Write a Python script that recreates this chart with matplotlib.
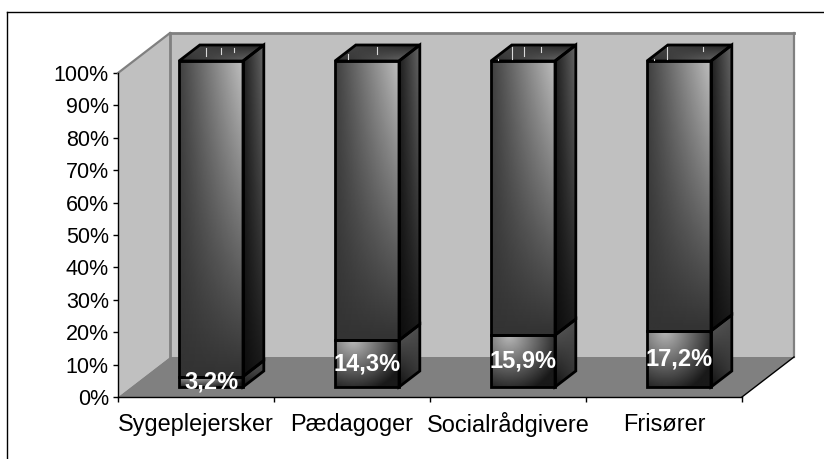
import numpy as np
import matplotlib
matplotlib.use("Agg")
import matplotlib.pyplot as plt
from matplotlib.patches import Polygon
from matplotlib.lines import Line2D

categories = ["Sygeplejersker", "Pædagoger", "Socialrådgivere", "Frisører"]
lower_values = [3.2, 14.3, 15.9, 17.2]
upper_values = [96.8, 85.7, 84.1, 82.8]
labels = ["3,2%", "14,3%", "15,9%", "17,2%"]
y_ticks = list(range(0, 101, 10))
# small light strokes on the bar tops: pixel x, pixel y from, pixel y to
top_marks = [
    [(205.7, 48, 56), (221, 48, 54), (234, 48, 52)],
    [(348, 54, 59), (377, 47, 54)],
    [(498, 59, 60), (512, 47, 59), (524, 47, 56), (541, 47, 52)],
    [(654, 59, 60), (667, 47, 59), (703, 47, 51)],
]

W, H = 824, 459
plt.rcParams["font.family"] = ["Liberation Sans", "DejaVu Sans"]
fig = plt.figure(figsize=(W / 100, H / 100), dpi=100)
ax = fig.add_axes([118 / W, (H - 397) / H, (742 - 118) / W, (397 - 73) / H])
ax.patch.set_visible(False)

DX = 52 / 156  # x data units per full depth
DY = 40 / 3.24  # y data units per full depth


def P(x, y, d=0.0):
    return (x + d * DX, y + d * DY)


def poly(pts, **kw):
    kw.setdefault("clip_on", False)
    p = Polygon(pts, closed=True, **kw)
    ax.add_patch(p)
    return p


# walls
GW = "#c0c0c0"
GF = "#808080"
poly([P(0, 0), P(0, 0, 1), P(0, 100, 1), P(0, 100)], fc=GW, ec="none", zorder=1)
poly([P(0, 0, 1), P(4, 0, 1), P(4, 100, 1), P(0, 100, 1)], fc=GW, ec="none", zorder=1)
poly([P(0, 0), P(4, 0), P(4, 0, 1), P(0, 0, 1)], fc=GF, ec="none", zorder=2)
for a, b, lw in [(P(0, 100), P(0, 100, 1), 1.6), (P(0, 100, 1), P(4, 100, 1), 2.0),
                 (P(0, 100, 1), P(0, 0, 1), 2.0), (P(4, 100, 1), P(4, 0, 1), 1.6)]:
    ax.add_line(Line2D([a[0], b[0]], [a[1], b[1]], color="#808080", lw=lw, clip_on=False, zorder=2))
a, b = P(4, 0), P(4, 0, 1)
ax.add_line(Line2D([a[0], b[0]], [a[1], b[1]], color="black", lw=1.0, clip_on=False, zorder=3))


def show(g, pts, z):
    xs = [p[0] for p in pts]
    ys = [p[1] for p in pts]
    im = ax.imshow(g, cmap="gray", vmin=0, vmax=1, extent=[min(xs), max(xs), min(ys), max(ys)],
                   origin="upper", aspect="auto", zorder=z, interpolation="bilinear")
    clip = Polygon(pts, closed=True, transform=ax.transData, fc="none", ec="none", clip_on=False)
    ax.add_patch(clip)
    im.set_clip_box(fig.bbox)
    im.set_clip_path(clip)


N = 48
U = np.linspace(0, 1, N)[None, :]
V = np.linspace(0, 1, N)[:, None]


def grad(pts, corners, z):
    """Bilinear grey gradient. corners = TL, TR, BL, BR grey levels (0-1)."""
    tl, tr, bl, br = corners
    show((1 - V) * ((1 - U) * tl + U * tr) + V * ((1 - U) * bl + U * br), pts, z)


def glow(pts, z):
    """Shading of the lower front face: light near the upper left, dark towards the edges."""
    dist = np.sqrt(((U - 0.28) / 0.85) ** 2 + (V / 1.15) ** 2)
    show(0.1 + 0.62 * np.clip(1 - dist, 0, 1), pts, z)


BW = 64 / 156
D0, D1 = 0.25, 0.65
XS = 2 / 156
YK = 326 / 324
for i, (lo, up) in enumerate(zip(lower_values, upper_values)):
    xl = i + 0.5 - BW / 2 + XS
    xr = xl + BW
    y0 = 0.0
    y1 = lo * YK
    y2 = (lo + up) * YK
    z = 5 + i
    # lower segment
    front = [P(xl, y0, D0), P(xr, y0, D0), P(xr, y1, D0), P(xl, y1, D0)]
    side = [P(xr, y0, D0), P(xr, y0, D1), P(xr, y1, D1), P(xr, y1, D0)]
    glow(front, z)
    grad(side, (0.38, 0.30, 0.06, 0.20), z)
    # upper segment
    front2 = [P(xl, y1, D0), P(xr, y1, D0), P(xr, y2, D0), P(xl, y2, D0)]
    side2 = [P(xr, y1, D0), P(xr, y1, D1), P(xr, y2, D1), P(xr, y2, D0)]
    top = [P(xl, y2, D0), P(xr, y2, D0), P(xr, y2, D1), P(xl, y2, D1)]
    grad(front2, (0.25, 0.74, 0.20, 0.20), z)
    grad(side2, (0.12, 0.40, 0.05, 0.10), z)
    grad(top, (0.30, 0.12, 0.17, 0.45), z)
    for pts in (front, side, front2, side2, top):
        poly(pts, fc="none", ec="black", lw=2.0, joinstyle="miter", zorder=z + 0.5)
    for px, py0, py1 in top_marks[i]:
        xd = (px - 118) / 156
        ax.add_line(Line2D([xd, xd], [(397 - py0) / 3.24, (397 - py1) / 3.24], color="#d8d8d8",
                           lw=0.8, clip_on=False, zorder=z + 0.6))
    c = P((xl + xr) / 2, y1 / 2, D0)
    ax.text(c[0], c[1], labels[i], color="white", fontsize=17, fontweight="bold",
            ha="center", va="center", zorder=20, clip_on=False)

ax.set_xlim(0, 4)
ax.set_ylim(0, 100)

# axes
for s in ("top", "right"):
    ax.spines[s].set_visible(False)
for s in ("left", "bottom"):
    ax.spines[s].set_linewidth(1.0)
    ax.spines[s].set_zorder(4)
ax.set_yticks(y_ticks)
ax.set_yticklabels([f"{t}%" for t in y_ticks], fontsize=15.5, color="black")
ax.set_xticks(range(5))
ax.set_xticklabels([""] * 5)
ax.tick_params(axis="both", direction="out", length=3.6, width=1.0, pad=3)
for i, name in enumerate(categories):
    ax.annotate(name, (i + 0.5, 0), xytext=(0, -19.5), textcoords="offset points",
                fontsize=16.9, ha="center", va="center", annotation_clip=False)

# outer frame (clipped at the right and bottom of the picture)
fig.add_artist(Line2D([7 / W, 7 / W], [0, (H - 12) / H], color="black", lw=1.0))
fig.add_artist(Line2D([7 / W, 1], [(H - 12) / H, (H - 12) / H], color="black", lw=1.0))

fig.savefig("out.png", dpi=100)
